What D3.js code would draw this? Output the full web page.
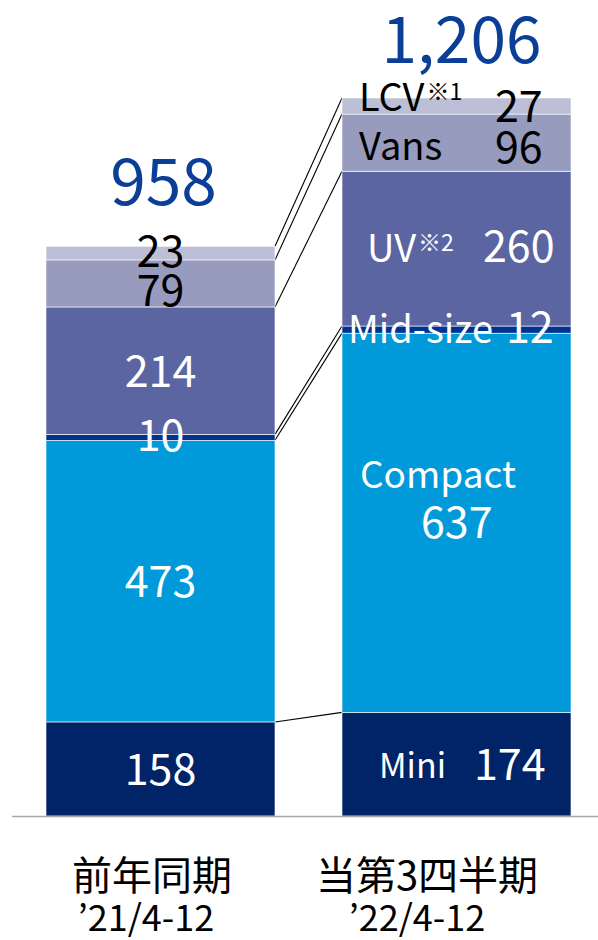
<!DOCTYPE html>
<html>
<head>
<meta charset="utf-8">
<script src="https://cdn.jsdelivr.net/npm/d3@7/dist/d3.min.js"></script>
<style>
  html, body { margin: 0; padding: 0; background: #ffffff; }
  svg { display: block; }
  text { font-family: "Noto Sans CJK JP", "Noto Sans", sans-serif; }
</style>
</head>
<body>
<div id="chart"></div>
<script>
// ---- data ----
const categories = ["前年同期", "当第3四半期"];
const periods = ["’21/4-12", "’22/4-12"];
const segments = ["Mini", "Compact", "Mid-size", "UV", "Vans", "LCV"];
const mini    = [158, 174];
const compact = [473, 637];
const midsize = [10, 12];
const uv      = [214, 260];
const vans    = [79, 96];
const lcv     = [23, 27];
const totals  = [958, 1206];
const segmentNotes = ["", "", "", "※2", "", "※1"];

// ---- styles ----
const colors = ["#002467", "#009ada", "#003391", "#5b65a1", "#979bbd", "#bcbfd6"];
const totalColor = "#0a3e97";

const W = 598, H = 940;
const svg = d3.select("#chart").append("svg").attr("width", W).attr("height", H);

const seriesValues = [mini, compact, midsize, uv, vans, lcv];
const table = categories.map((c, i) => {
  const row = { cat: c };
  segments.forEach((s, j) => row[s] = seriesValues[j][i]);
  return row;
});
const stack = d3.stack().keys(segments)(table);

const x = d3.scaleBand().domain(categories).range([46, 571]).paddingInner(0.2264).paddingOuter(0);
const y = d3.scaleLinear().domain([0, 1206]).range([816, 98]);

// connector lines
const gLines = svg.append("g");
stack.forEach(layer => {
  gLines.append("line")
    .attr("x1", x(categories[0]) + x.bandwidth())
    .attr("y1", y(layer[0][1]))
    .attr("x2", x(categories[1]))
    .attr("y2", y(layer[1][1]))
    .attr("stroke", "#000").attr("stroke-width", 1.1);
});

// bars
svg.append("g").selectAll("g").data(stack).join("g")
  .attr("fill", (d, i) => colors[i])
  .selectAll("rect").data(d => d).join("rect")
  .attr("x", d => x(d.data.cat))
  .attr("y", d => y(d[1]))
  .attr("width", x.bandwidth())
  .attr("height", d => y(d[0]) - y(d[1]))
  .attr("stroke", "#ffffff").attr("stroke-width", 0.6);

// axis baseline
const axis = d3.axisBottom(x).tickSize(0).tickFormat("");
svg.append("g").attr("transform", "translate(0,816)").call(axis)
  .call(g => g.select(".domain").attr("d", "M12,0.5H598").attr("stroke", "#a6a6a6").attr("stroke-width", 1.6));

// totals
svg.append("g").selectAll("text").data(totals).join("text")
  .attr("x", (d, i) => x(categories[i]) + x.bandwidth() / 2 + (i === 0 ? 3 : 5))
  .attr("y", (d, i) => i === 0 ? 205 : 63)
  .attr("text-anchor", "middle")
  .attr("fill", totalColor)
  .attr("font-size", 64)
  .text(d3.format(","));

// left bar values (centered)
const leftDy = [16, 16, 14, 16, 23, 14];
const leftColor = ["#fff", "#fff", "#fff", "#fff", "#000", "#000"];
const gL = svg.append("g");
stack.forEach((layer, j) => {
  const d = layer[0];
  gL.append("text")
    .attr("x", x(categories[0]) + x.bandwidth() / 2)
    .attr("y", (y(d[0]) + y(d[1])) / 2 + leftDy[j])
    .attr("text-anchor", "middle")
    .attr("fill", leftColor[j])
    .attr("font-size", 43)
    .text(d[1] - d[0]);
});

// right bar: names and values
const rightName = [[379, 778, 34], [360, 488, 37], [348, 343, 38], [367, 262, 38], [359, 160, 38], [359, 111, 38]];
const rightVal  = [[474, 780], [421, 538], [506, 343], [483, 262], [495, 163], [495, 122]];
const rightColor = ["#fff", "#fff", "#fff", "#fff", "#000", "#000"];
const gR = svg.append("g");
stack.forEach((layer, j) => {
  const d = layer[1];
  const t = gR.append("text")
    .attr("x", rightName[j][0])
    .attr("y", rightName[j][1])
    .attr("fill", rightColor[j])
    .attr("font-size", rightName[j][2]);
  t.append("tspan").text(segments[j]);
  if (segmentNotes[j]) {
    t.append("tspan").attr("font-size", 23).attr("dy", -11).attr("dx", 2).text(segmentNotes[j]);
  }
  gR.append("text")
    .attr("x", rightVal[j][0])
    .attr("y", rightVal[j][1])
    .attr("fill", rightColor[j])
    .attr("font-size", 43)
    .text(d[1] - d[0]);
});

// category labels
const labelCx = [152, 427];
svg.append("g").selectAll("text").data(categories).join("text")
  .attr("x", (d, i) => labelCx[i])
  .attr("y", 890)
  .attr("text-anchor", "middle")
  .attr("fill", "#000")
  .attr("font-size", 40)
  .text(d => d);
svg.append("g").selectAll("text").data(periods).join("text")
  .attr("x", (d, i) => labelCx[i] - (i === 0 ? 6 : 10))
  .attr("y", 931)
  .attr("text-anchor", "middle")
  .attr("fill", "#000")
  .attr("font-size", 36)
  .text(d => d);
</script>
</body>
</html>
